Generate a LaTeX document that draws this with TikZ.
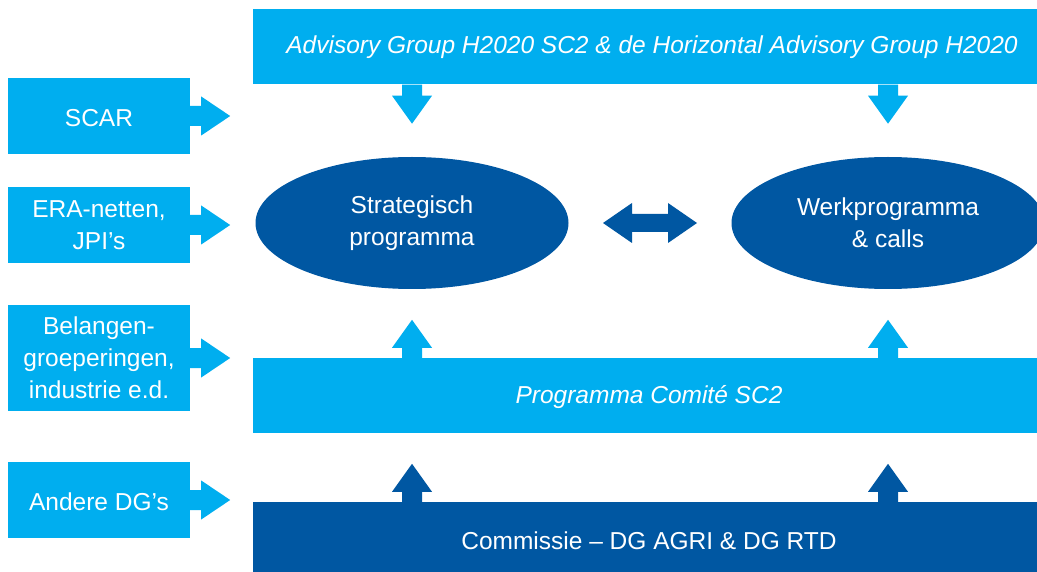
\documentclass[tikz,border=0pt]{standalone}
\usepackage{fontspec}
\setmainfont{Liberation Sans}
\usetikzlibrary{shapes.geometric,calc}
\definecolor{lblue}{HTML}{00AEEF}
\definecolor{dblue}{HTML}{0057A2}
% right block arrow starting at #1 (mid of its tail)
\newcommand{\rblock}[2]{\fill[#2] (#1) ++(0,-10) -- ++(11,0) -- ++(0,-9.5) -- ++(29,19.5) -- ++(-29,19.5) -- ++(0,-9.5) -- ++(-11,0) -- cycle;}
% down block arrow starting at #1 (mid of tail)
\newcommand{\dblock}[2]{\fill[#2] (#1) ++(-10,0) -- ++(0,11) -- ++(-10,0) -- ++(20,28) -- ++(20,-28) -- ++(-10,0) -- ++(0,-11) -- cycle;}
% up block arrow starting at #1 (mid of tail)
\newcommand{\ublock}[2]{\fill[#2] (#1) ++(-10,0) -- ++(0,-10) -- ++(-10,0) -- ++(20,-28) -- ++(20,28) -- ++(-10,0) -- ++(0,10) -- cycle;}
% double block arrow centred at #1
\newcommand{\twoblock}[2]{\fill[#2] (#1) ++(-47,0) -- ++(29,-20) -- ++(0,11) -- ++(36,0) -- ++(0,-11) -- ++(29,20) -- ++(-29,20) -- ++(0,-11) -- ++(-36,0) -- ++(0,11) -- cycle;}
\begin{document}
\begin{tikzpicture}[x=1pt,y=-1pt,
  txt/.style={text=white, font=\fontsize{24.5}{32}\selectfont, align=center, inner sep=0pt},
  sidebox/.style={txt, fill=lblue, minimum width=182, minimum height=76},
  lbar/.style={txt, fill=lblue, minimum width=784, minimum height=75},
  dbar/.style={txt, fill=dblue, minimum width=784, minimum height=72},
  oval/.style={txt, ellipse, fill=dblue, minimum width=313, minimum height=132}]
\useasboundingbox (0,0) rectangle (1037,572);
\fill[white] (0,0) rectangle (1037,572);

% bars
\node[lbar] (adv) at (645,47) {\itshape\hspace*{14pt}Advisory Group H2020 SC2 \& de Horizontal Advisory Group H2020};
\node[lbar] (pc) at (645,395.5) {\raisebox{0pt}[15.5pt][0pt]{\itshape\hspace*{8pt}Programma Comité SC2}};
\node[dbar] (com) at (645,538) {\raisebox{0pt}[23.5pt][0pt]{\hspace*{8pt}Commissie – DG AGRI \& DG RTD}};

% ellipses
\node[oval] (sp) at (412,223) {Strategisch\\programma};
\node[oval] (wp) at (888,223) {Werkprogramma\\\& calls};

% side boxes
\node[sidebox] (scar) at (99,116) {\raisebox{0pt}[20.5pt][0pt]{SCAR}};
\node[sidebox] (era) at (99,225) {ERA-netten,\\JPI’s};
\node[sidebox, minimum height=106] (bel) at (99,358) {Belangen-\\groeperingen,\\industrie e.d.};
\node[sidebox] (adg) at (99,500) {\raisebox{0pt}[20.5pt][0pt]{Andere DG’s}};

% side arrows
\rblock{scar.east}{lblue}
\rblock{era.east}{lblue}
\rblock{bel.east}{lblue}
\rblock{adg.east}{lblue}

% down arrows from advisory bar
\dblock{adv.south -| sp.center}{lblue}
\dblock{adv.south -| wp.center}{lblue}

% up arrows from programma comite
\ublock{pc.north -| sp.center}{lblue}
\ublock{pc.north -| wp.center}{lblue}

% up arrows from commissie
\ublock{com.north -| sp.center}{dblue}
\ublock{com.north -| wp.center}{dblue}

% double arrow
\coordinate (mid) at ($(sp.east)!0.5!(wp.west)$);
\twoblock{mid}{dblue}
\end{tikzpicture}
\end{document}
